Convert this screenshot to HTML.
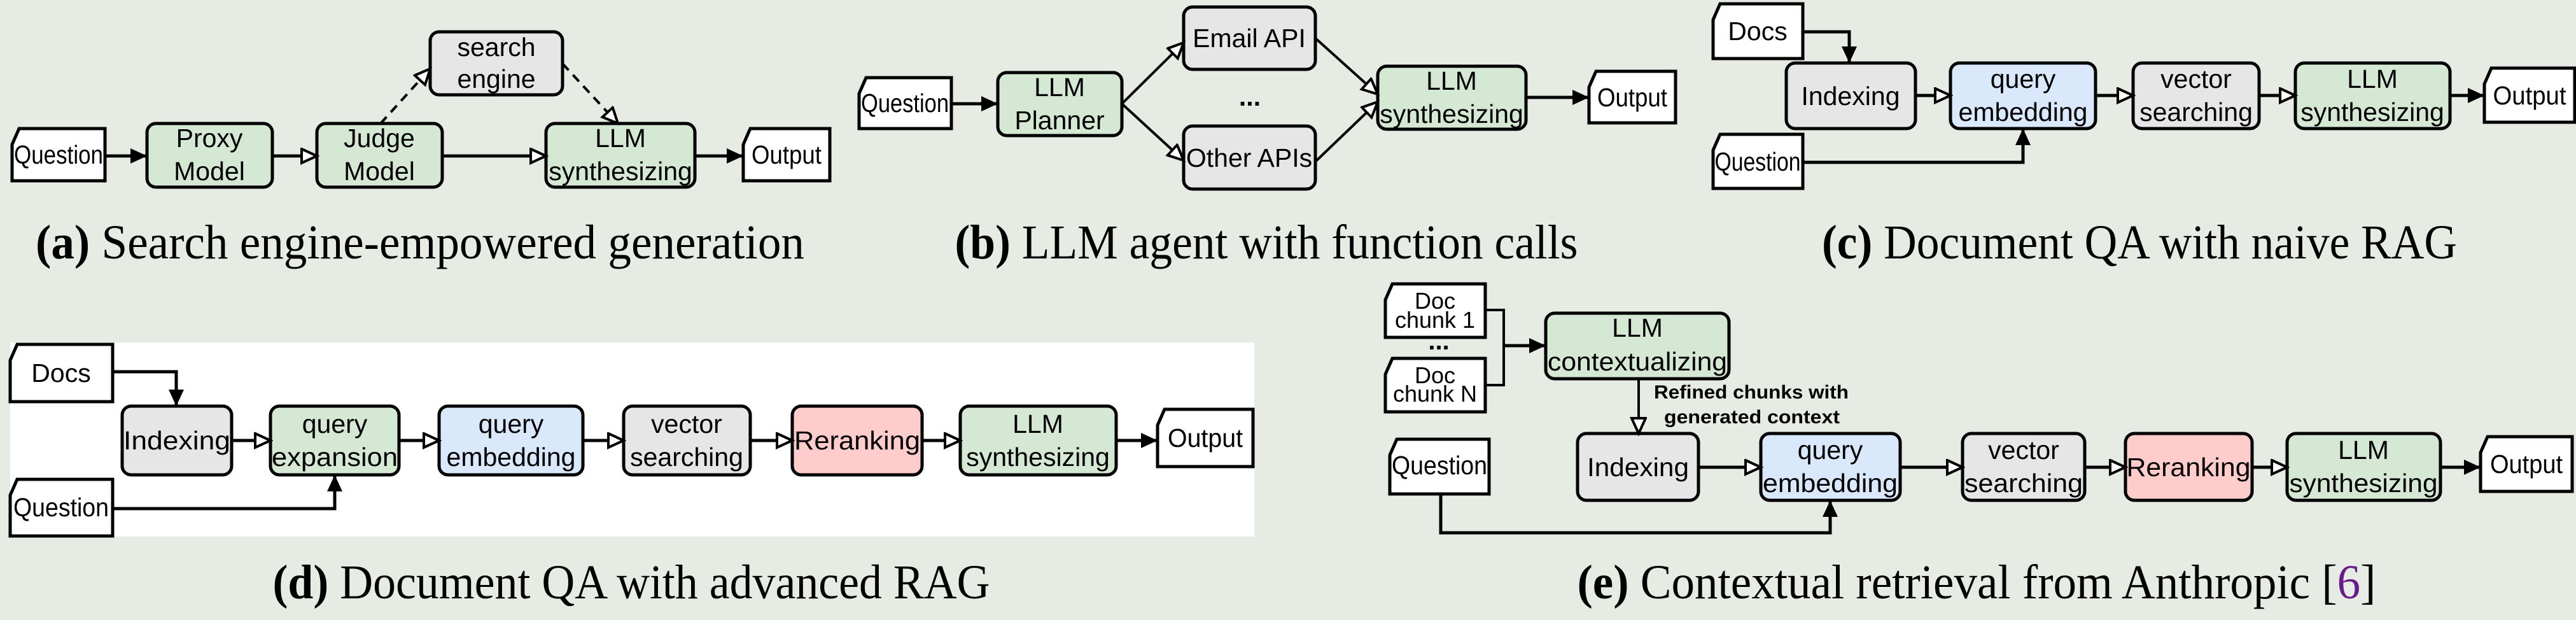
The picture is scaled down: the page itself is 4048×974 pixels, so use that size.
<!DOCTYPE html>
<html><head><meta charset="utf-8"><style>
html,body{margin:0;padding:0;background:#e6ebe4;}
svg{display:block;}
.t{font-family:"Liberation Sans",sans-serif;font-size:41px;text-anchor:middle;fill:#000;}
.c{font-family:"Liberation Serif",serif;font-size:76px;text-anchor:middle;fill:#000;}
.b{font-weight:bold;}
.l{fill:none;stroke:#000;stroke-width:5;}
</style></head><body>
<svg width="4048" height="974" viewBox="0 0 4048 974" xmlns="http://www.w3.org/2000/svg">
<defs>
<marker id="f" markerUnits="userSpaceOnUse" markerWidth="30" markerHeight="26" refX="26" refY="12" orient="auto"><path d="M0,0 L26,12 L0,24 z" fill="#000"/></marker>
<marker id="o" markerUnits="userSpaceOnUse" markerWidth="30" markerHeight="30" refX="26" refY="13" orient="auto"><path d="M2,2 L26,13 L2,24 z" fill="#fff" stroke="#000" stroke-width="4"/></marker>
</defs>
<rect width="4048" height="974" fill="#e6ebe4"/>
<g stroke="#000" stroke-width="5">
<polygon points="19,227 30,202 165,202 165,284 19,284" fill="#fff"/>
<rect x="231" y="194" width="197" height="100" rx="14" fill="#d5e8d4"/>
<rect x="498" y="194" width="197" height="100" rx="14" fill="#d5e8d4"/>
<rect x="858" y="194" width="234" height="100" rx="14" fill="#d5e8d4"/>
<polygon points="1168,227 1179,202 1304,202 1304,284 1168,284" fill="#fff"/>
<rect x="676" y="50" width="208" height="99" rx="14" fill="#e6e6e6"/>
<polygon points="1350,147 1361,122 1495,122 1495,202 1350,202" fill="#fff"/>
<rect x="1568" y="114" width="195" height="99" rx="14" fill="#d5e8d4"/>
<rect x="1860" y="11" width="207" height="98" rx="14" fill="#e6e6e6"/>
<rect x="1860" y="198" width="207" height="99" rx="14" fill="#e6e6e6"/>
<rect x="2165" y="104" width="233" height="99" rx="14" fill="#d5e8d4"/>
<polygon points="2497,137 2508,112 2633,112 2633,193 2497,193" fill="#fff"/>
<polygon points="2692,31 2703,6 2833,6 2833,92 2692,92" fill="#fff"/>
<polygon points="2692,236 2703,211 2833,211 2833,296 2692,296" fill="#fff"/>
<rect x="2807" y="99" width="203" height="103" rx="14" fill="#e6e6e6"/>
<rect x="3065" y="99" width="228" height="103" rx="14" fill="#dae8fc"/>
<rect x="3352" y="99" width="198" height="103" rx="14" fill="#e6e6e6"/>
<rect x="3607" y="99" width="243" height="103" rx="14" fill="#d5e8d4"/>
<polygon points="3904,132 3915,107 4046,107 4046,192 3904,192" fill="#fff"/>
</g>
<rect x="16" y="538" width="1955" height="305" fill="#fff"/>
<g stroke="#000" stroke-width="5">
<polygon points="16,566 27,541 177,541 177,631 16,631" fill="#fff"/>
<polygon points="16,778 27,753 177,753 177,842 16,842" fill="#fff"/>
<rect x="192" y="638" width="172" height="108" rx="14" fill="#e6e6e6"/>
<rect x="425" y="638" width="202" height="108" rx="14" fill="#d5e8d4"/>
<rect x="690" y="638" width="226" height="108" rx="14" fill="#dae8fc"/>
<rect x="980" y="638" width="199" height="108" rx="14" fill="#e6e6e6"/>
<rect x="1245" y="638" width="204" height="108" rx="14" fill="#ffcccc"/>
<rect x="1509" y="638" width="245" height="108" rx="14" fill="#d5e8d4"/>
<polygon points="1819,668 1830,643 1969,643 1969,733 1819,733" fill="#fff"/>
<polygon points="2177,471 2188,446 2334,446 2334,530 2177,530" fill="#fff"/>
<polygon points="2177,588 2188,563 2334,563 2334,647 2177,647" fill="#fff"/>
<rect x="2429" y="492" width="288" height="103" rx="14" fill="#d5e8d4"/>
<polygon points="2184,715 2195,690 2340,690 2340,776 2184,776" fill="#fff"/>
<rect x="2479" y="681" width="190" height="105" rx="14" fill="#e6e6e6"/>
<rect x="2767" y="681" width="219" height="105" rx="14" fill="#dae8fc"/>
<rect x="3084" y="681" width="192" height="105" rx="14" fill="#e6e6e6"/>
<rect x="3340" y="681" width="199" height="105" rx="14" fill="#ffcccc"/>
<rect x="3594" y="681" width="241" height="105" rx="14" fill="#d5e8d4"/>
<polygon points="3898,711 3909,686 4042,686 4042,772 3898,772" fill="#fff"/>
</g>
<g class="l">
<path d="M165,245 H231" marker-end="url(#f)"/>
<path d="M428,245 H498" marker-end="url(#o)"/>
<path d="M695,245 H858" marker-end="url(#o)"/>
<path d="M1092,245 H1168" marker-end="url(#f)"/>
<path d="M598,194 L676,108" stroke-dasharray="14,10" stroke-width="4" marker-end="url(#o)"/>
<path d="M884,100 L971,194" stroke-dasharray="14,10" stroke-width="4" marker-end="url(#o)"/>
<path d="M1495,163 H1568" marker-end="url(#f)"/>
<path d="M1763,163 L1860,67" stroke-width="4" marker-end="url(#o)"/>
<path d="M1763,163 L1860,252" stroke-width="4" marker-end="url(#o)"/>
<path d="M2067,60 L2165,148" stroke-width="4" marker-end="url(#o)"/>
<path d="M2067,254 L2165,160" stroke-width="4" marker-end="url(#o)"/>
<path d="M2398,153 H2497" marker-end="url(#f)"/>
<path d="M2833,50 H2906 V99" marker-end="url(#f)"/>
<path d="M2833,255 H3179 V202" marker-end="url(#f)"/>
<path d="M3010,150 H3065" marker-end="url(#o)"/>
<path d="M3293,150 H3352" marker-end="url(#o)"/>
<path d="M3550,150 H3607" marker-end="url(#o)"/>
<path d="M3850,150 H3904" marker-end="url(#f)"/>
<path d="M177,584 H277 V638" marker-end="url(#f)"/>
<path d="M177,799 H526 V746" marker-end="url(#f)"/>
<path d="M364,692 H425" marker-end="url(#o)"/>
<path d="M627,692 H690" marker-end="url(#o)"/>
<path d="M916,692 H980" marker-end="url(#o)"/>
<path d="M1179,692 H1245" marker-end="url(#o)"/>
<path d="M1449,692 H1509" marker-end="url(#o)"/>
<path d="M1754,692 H1819" marker-end="url(#f)"/>
<path d="M2334,487 H2363 V605 H2334" stroke-width="4"/>
<path d="M2363,543 H2429" marker-end="url(#f)"/>
<path d="M2575,595 V681" stroke-width="4" marker-end="url(#o)"/>
<path d="M2264,776 V837 H2876 V786" marker-end="url(#f)"/>
<path d="M2669,734 H2767" marker-end="url(#o)"/>
<path d="M2986,734 H3084" marker-end="url(#o)"/>
<path d="M3276,734 H3340" marker-end="url(#o)"/>
<path d="M3539,734 H3594" marker-end="url(#o)"/>
<path d="M3835,734 H3898" marker-end="url(#f)"/>
</g>
<g class="t">
<text x="92" y="257" textLength="140" lengthAdjust="spacingAndGlyphs">Question</text>
<text x="329" y="231">Proxy</text><text x="329" y="283">Model</text>
<text x="596" y="231">Judge</text><text x="596" y="283">Model</text>
<text x="975" y="231">LLM</text><text x="975" y="283">synthesizing</text>
<text x="1236" y="257" textLength="110" lengthAdjust="spacingAndGlyphs">Output</text>
<text x="780" y="88">search</text><text x="780" y="138">engine</text>
<text x="1422" y="176" textLength="138" lengthAdjust="spacingAndGlyphs">Question</text>
<text x="1665" y="151">LLM</text><text x="1665" y="203">Planner</text>
<text x="1963" y="74">Email API</text>
<text x="1963" y="262">Other APIs</text>
<text x="1964" y="166" class="b">...</text>
<text x="2281" y="141">LLM</text><text x="2281" y="193">synthesizing</text>
<text x="2565" y="167" textLength="110" lengthAdjust="spacingAndGlyphs">Output</text>
<text x="2762" y="63">Docs</text>
<text x="2762" y="268" textLength="135" lengthAdjust="spacingAndGlyphs">Question</text>
<text x="2908" y="165">Indexing</text>
<text x="3179" y="138">query</text><text x="3179" y="190">embedding</text>
<text x="3451" y="138">vector</text><text x="3451" y="190">searching</text>
<text x="3728" y="138">LLM</text><text x="3728" y="190">synthesizing</text>
<text x="3975" y="164" textLength="115" lengthAdjust="spacingAndGlyphs">Output</text>
<text x="96" y="600">Docs</text>
<text x="96" y="811" textLength="150" lengthAdjust="spacingAndGlyphs">Question</text>
<text x="278" y="706" textLength="168" lengthAdjust="spacingAndGlyphs">Indexing</text>
<text x="526" y="680">query</text><text x="526" y="732" textLength="198" lengthAdjust="spacingAndGlyphs">expansion</text>
<text x="803" y="680">query</text><text x="803" y="732">embedding</text>
<text x="1079" y="680">vector</text><text x="1079" y="732">searching</text>
<text x="1347" y="706" textLength="198" lengthAdjust="spacingAndGlyphs">Reranking</text>
<text x="1631" y="680">LLM</text><text x="1631" y="732">synthesizing</text>
<text x="1894" y="702" textLength="118" lengthAdjust="spacingAndGlyphs">Output</text>
<text x="2255" y="485" style="font-size:36px">Doc</text><text x="2255" y="515" style="font-size:36px">chunk 1</text>
<text x="2261" y="549" class="b" style="font-size:40px">...</text>
<text x="2255" y="602" style="font-size:36px">Doc</text><text x="2255" y="631" style="font-size:36px">chunk N</text>
<text x="2573" y="529">LLM</text><text x="2573" y="582" textLength="282" lengthAdjust="spacingAndGlyphs">contextualizing</text>
<text x="2262" y="745" textLength="150" lengthAdjust="spacingAndGlyphs">Question</text>
<text x="2574" y="748" textLength="160" lengthAdjust="spacingAndGlyphs">Indexing</text>
<text x="2876" y="721">query</text><text x="2876" y="773" textLength="212" lengthAdjust="spacingAndGlyphs">embedding</text>
<text x="3180" y="721">vector</text><text x="3180" y="773" textLength="186" lengthAdjust="spacingAndGlyphs">searching</text>
<text x="3439" y="748" textLength="195" lengthAdjust="spacingAndGlyphs">Reranking</text>
<text x="3714" y="721">LLM</text><text x="3714" y="773" textLength="233" lengthAdjust="spacingAndGlyphs">synthesizing</text>
<text x="3970" y="743" textLength="114" lengthAdjust="spacingAndGlyphs">Output</text>
</g>
<g font-family="Liberation Sans, sans-serif" font-size="30" font-weight="bold">
<text x="2599" y="626" textLength="306" lengthAdjust="spacingAndGlyphs">Refined chunks with</text>
<text x="2615" y="665" textLength="276" lengthAdjust="spacingAndGlyphs">generated context</text>
</g>
<g class="c">
<text x="660" y="406" textLength="1208" lengthAdjust="spacingAndGlyphs"><tspan class="b">(a)</tspan> Search engine-empowered generation</text>
<text x="1990" y="406" textLength="979" lengthAdjust="spacingAndGlyphs"><tspan class="b">(b)</tspan> LLM agent with function calls</text>
<text x="3362" y="406" textLength="998" lengthAdjust="spacingAndGlyphs"><tspan class="b">(c)</tspan> Document QA with naive RAG</text>
<text x="992" y="940" textLength="1127" lengthAdjust="spacingAndGlyphs"><tspan class="b">(d)</tspan> Document QA with advanced RAG</text>
<text x="3106" y="940" textLength="1255" lengthAdjust="spacingAndGlyphs"><tspan class="b">(e)</tspan> Contextual retrieval from Anthropic [<tspan fill="#6a1b8a">6</tspan>]</text>
</g>
</svg>
</body></html>
